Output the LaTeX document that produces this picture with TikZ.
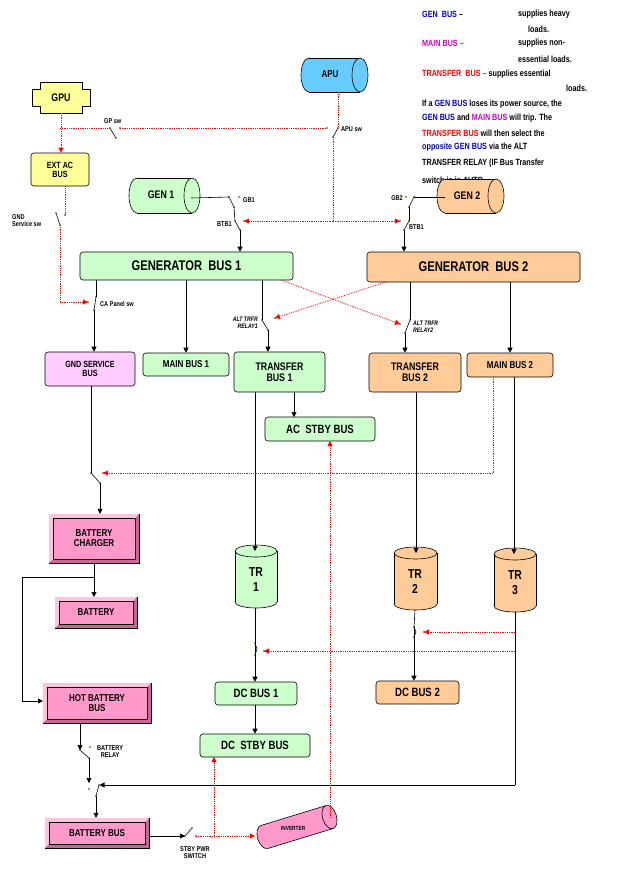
\documentclass[tikz,border=0pt]{standalone}
\usepackage{fontspec}
\setmainfont{Liberation Sans}[FakeStretch=0.8]
\usetikzlibrary{arrows.meta}
\definecolor{gr}{HTML}{CCFFCC}
\definecolor{orc}{HTML}{FFCC99}
\definecolor{pk}{HTML}{FF99CC}
\definecolor{pkd}{HTML}{CC6699}
\definecolor{lpk}{HTML}{FFCCFF}
\definecolor{yl}{HTML}{FFFF99}
\definecolor{bl}{HTML}{66CCFF}
\definecolor{lgb}{HTML}{0000CC}
\definecolor{lgm}{HTML}{CC00CC}
\definecolor{brn}{HTML}{996633}
\newcommand\fs[1]{\fontsize{#1}{#1}\selectfont\bfseries}
\tikzset{
 arr/.style={-{Triangle[length=5pt,width=5pt]},line width=0.6pt},
 ln/.style={line width=0.6pt},
 rarr/.style={red,densely dotted,line width=0.8pt,-{Triangle[length=5pt,width=5pt]}},
 rln/.style={red,densely dotted,line width=0.8pt},
 lbl/.style={inner sep=0,font=\fs{7},align=left},
 lg/.style={inner sep=0,anchor=west,font=\fs{9}},
}
\newcommand\rb[8]{\node[draw,line width=0.6pt,rounded corners=3pt,fill=#6,inner sep=0,align=center,font=\fs{#7},
 minimum width={(#4-#2)*1pt},minimum height={(#5-#3)*1pt}] (#1) at ({(#2+#4)/2},{(#3+#5)/2}) {#8};}
\newcommand\bev[6]{\draw[line width=0.6pt,fill=pkd] (#2,#3) rectangle (#4,#5);
 \fill[pk!60] (#2,#3) -- (#4,#3) -- (#4-4,#3+4) -- (#2+4,#3+4) -- (#2+4,#5-4) -- (#2,#5) -- cycle;
 \draw[line width=0.6pt,fill=pk] (#2+4,#3+4) rectangle (#4-4,#5-4);
 \node[inner sep=0,align=center,font=\fs{10},minimum width={(#4-#2)*1pt},minimum height={(#5-#3)*1pt}] (#1) at ({(#2+#4)/2},{(#3+#5)/2}) {#6};}
\newcommand\hcyl[7]{\draw[line width=0.6pt,fill=#6] (#2+#7,{(#3+#5)/2}) ellipse [x radius=#7,y radius={(#5-#3)/2}];
 \fill[#6] (#2+#7,#3) rectangle (#4-#7,#5);
 \draw[line width=0.6pt] (#2+#7,#3) -- (#4-#7,#3) (#2+#7,#5) -- (#4-#7,#5);
 \draw[line width=0.6pt,fill=#6] (#4-#7,{(#3+#5)/2}) ellipse [x radius=#7,y radius={(#5-#3)/2}];
 \coordinate (#1) at ({(#2+#4)/2-#7},{(#3+#5)/2});}
\newcommand\vcyl[7]{\draw[line width=0.6pt,fill=#6] ({(#2+#4)/2},#5-#7) ellipse [y radius=#7,x radius={(#4-#2)/2}];
 \fill[#6] (#2,#3+#7) rectangle (#4,#5-#7);
 \draw[line width=0.6pt] (#2,#3+#7) -- (#2,#5-#7) (#4,#3+#7) -- (#4,#5-#7);
 \draw[line width=0.6pt,fill=#6] ({(#2+#4)/2},#3+#7) ellipse [y radius=#7,x radius={(#4-#2)/2}];
 \coordinate (#1) at ({(#2+#4)/2},{(#3+#5)/2+#7});}
\newcommand\sw[7]{\coordinate (#1a) at (#2,#3); \coordinate (#1b) at (#4,#5); \coordinate (#1c) at (#6,#7);
 \draw[line width=0.6pt] (#1a) -- (#1b);
 \fill[brn] (#1a) circle (1.2) (#1b) circle (1.2) (#1c) circle (1.2);}
\begin{document}
\begin{tikzpicture}[x=1pt,y=-1pt]
\useasboundingbox (0,0) rectangle (628,871);
% legend
\node[lg] at (422,14) {\textcolor{lgb}{GEN\ \ BUS} --};
\node[lg] at (518,14) {supplies heavy};
\node[lg] at (528,29) {loads.};
\node[lg] at (422,43) {\textcolor{lgm}{MAIN BUS} \textcolor{lgm}{--}};
\node[lg] at (518,43) {supplies non-};
\node[lg] at (518,59) {essential loads.};
\node[lg] at (422,74) {\textcolor{red}{TRANSFER\ \ BUS --} supplies essential};
\node[lg] at (566,88) {loads.};
\node[lg] at (422,104) {If a \textcolor{lgb}{GEN\ BUS} loses its power source, the};
\node[lg] at (422,118) {\textcolor{lgb}{GEN\ BUS} and \textcolor{lgm}{MAIN BUS} will trip. The};
\node[lg] at (422,133) {\textcolor{red}{TRANSFER\ BUS} will then select the};
\node[lg] at (422,147) {\textcolor{lgb}{opposite GEN\ BUS} via the ALT};
\node[lg] at (422,163) {TRANSFER\ RELAY (IF Bus Transfer};
\node[lg] at (422,180) {switch is in AUTO.};
% sources
\draw[line width=0.6pt,fill=yl] (40,82) -- (82,82) -- (82,89) -- (90,89) -- (90,106) -- (82,106) -- (82,113) -- (40,113) -- (40,106) -- (32,106) -- (32,89) -- (40,89) -- cycle;
\node[inner sep=0,font=\fs{11}] (gpu) at (61,97.5) {GPU};
\coordinate (gpub) at (61,113);
\hcyl{apu}{301}{58}{368}{92}{bl}{8}
\node[font=\fs{10},inner sep=0] (apul) at (330,74) {APU};
\hcyl{gen1}{129}{178}{200}{213}{gr}{8}
\node[font=\fs{11},inner sep=0] (gen1l) at (161,195) {GEN 1};
\hcyl{gen2}{437}{179}{504}{213}{orc}{8}
\node[font=\fs{11},inner sep=0] (gen2l) at (467,196) {GEN 2};
% boxes
\rb{extac}{31}{153}{89}{186}{yl}{9}{EXT AC\\BUS}
\rb{gb1}{80}{252}{293}{280}{gr}{14}{GENERATOR\ \ BUS 1}
\rb{gb2}{367}{252}{580}{282}{orc}{14}{GENERATOR\ \ BUS 2}
\rb{gsb}{45}{352}{135}{386}{lpk}{9}{GND SERVICE\\BUS}
\rb{mb1}{143}{353}{229}{376}{gr}{10}{MAIN BUS 1}
\rb{tb1}{234}{352}{325}{392}{gr}{11}{TRANSFER\\BUS 1}
\rb{tb2}{369}{353}{461}{392}{orc}{11}{TRANSFER\\BUS 2}
\rb{mb2}{467}{353}{553}{377}{orc}{10}{MAIN BUS 2}
\rb{acs}{265}{417}{375}{441}{gr}{12}{AC\ \ STBY BUS}
\rb{dc1}{215}{682}{297}{705}{gr}{12}{DC BUS 1}
\rb{dcs}{200}{734}{310}{757}{gr}{12}{DC\ \ STBY BUS}
\rb{dc2}{376}{681}{459}{704}{orc}{12}{DC BUS 2}
\bev{chg}{49}{514}{139}{563}{BATTERY\\CHARGER}
\bev{bat}{55}{597}{137}{628}{BATTERY}
\bev{hbb}{43}{683}{151}{723}{HOT BATTERY\\BUS}
\bev{bb}{45}{818}{149}{848}{BATTERY BUS}
% TRs
\vcyl{tr1}{235}{545}{277}{608}{gr}{6}
\node[font=\fs{13},align=center,inner sep=0] (tr1l) at (256,580) {TR\\[2pt]1};
\vcyl{tr2}{394}{547}{437}{610}{orc}{6}
\node[font=\fs{13},align=center,inner sep=0] (tr2l) at (415,582) {TR\\[2pt]2};
\vcyl{tr3}{494}{548}{536}{612}{orc}{6}
\node[font=\fs{13},align=center,inner sep=0] (tr3l) at (515,583) {TR\\[2pt]3};
% inverter
\begin{scope}[shift={(297,827)},rotate=17]
\hcyl{inv}{-41}{-12}{41}{12}{pk}{7}
\node[font=\fs{6},inner sep=0] (invl) at (-4,0) {INVERTER};
\end{scope}
\coordinate (invL) at (255,836);
\coordinate (invT) at (330,818);
% switches
\sw{gp}{110}{128}{116}{138}{120}{128}
\sw{apus}{338}{128}{333}{137}{327}{128}
\sw{gnd}{56}{213}{60}{225}{65}{215}
\sw{ca}{96}{297}{94}{310}{88}{302}
\sw{gba}{234}{207}{229}{197}{239}{197}
\sw{bta}{235}{221}{240}{230}{244}{221}
\sw{gbb}{409}{207}{414}{197}{406}{197}
\sw{btb}{409}{221}{404}{230}{400}{221}
\sw{ar1}{262}{320}{268}{330}{275}{318}
\sw{ar2}{410}{320}{405}{333}{400}{324}
\sw{gss}{91}{473}{100}{483}{103}{473}
\sw{t1}{255}{643}{255}{655}{264}{651}
\sw{t2}{414}{627}{414}{637}{424}{632}
\sw{br}{80}{750}{89}{758}{90}{747}
\sw{lw}{96}{796}{99}{785}{89}{789}
\sw{sp}{185}{836}{192}{828}{196}{836}
% labels
\node[lbl,anchor=west] at (104,121) {GP sw};
\node[lbl,anchor=west] at (341,129) {APU sw};
\node[lbl,anchor=west] at (12,221) {GND\\Service sw};
\node[lbl,anchor=west] at (100,304) {CA Panel sw};
\node[lbl,anchor=west] at (243,200) {GB1};
\node[lbl,anchor=east] at (232,224) {BTB1};
\node[lbl,anchor=east] at (403,198) {GB2};
\node[lbl,anchor=west] at (409,227) {BTB1};
\node[lbl,anchor=east,align=right,font=\fs{6.5}\itshape] at (258,323) {ALT TRFR\\RELAY1};
\node[lbl,anchor=west,font=\fs{6.5}\itshape] at (413,327) {ALT TRFR\\RELAY2};
\node[lbl,anchor=west,align=center] at (97,752) {BATTERY\\RELAY};
\node[lbl,align=center] at (195,853) {STBY PWR\\SWITCH};
% red AC feeds
\draw[rarr] (gpub) -- (gpub |- extac.north);
\draw[rln] (60,128) -- (gpa);
\draw[rln] (gpc) -- (apusc);
\draw[rln] (338,92) -- (apusa);
\draw[rln] (apusb) -- (333,221);
\draw[rarr] (333,221) -- (btac);
\draw[rarr] (333,221) -- (btbc);
\draw[rln] (extac.south -| gndc) -- (gndc);
\draw[rln] (gndb) -- (60,302);
\draw[rarr] (60,302) -- (cac);
% gens
\draw[ln] (191,198) -- (gbab);
\draw[ln] (gbaa) -- (btaa);
\draw[arr] (btab) -- (btab |- gb1.north);
\draw[ln] (445,197) -- (gbbb);
\draw[ln] (gbba) -- (btba);
\draw[arr] (btbb) -- (btbb |- gb2.north);
% gen bus outputs
\draw[ln] (gb1.south -| caa) -- (caa);
\draw[arr] (cab) -- (cab |- gsb.north);
\draw[arr] (gb1.south -| mb1.north) -- (mb1.north);
\draw[ln] (gb1.south -| ar1a) -- (ar1a);
\draw[arr] (ar1b) -- (ar1b |- tb1.north);
\draw[ln] (gb2.south -| ar2a) -- (ar2a);
\draw[arr] (ar2b) -- (ar2b |- tb2.north);
\draw[arr] (gb2.south -| mb2.north) -- (mb2.north);
\draw[rarr] (281,280) -- (ar2c);
\draw[rarr] (386,282) -- (ar1c);
\draw[arr] (294,392) -- (294,417);
% TRs
\draw[arr] (255,392) -- (255,551);
\draw[arr] (416,392) -- (416,553);
\draw[arr] (514,377) -- (514,554);
\draw[ln] (255,608) -- (t1a);
\draw[ln] (t1a) -- (257,649) -- (t1b);
\draw[arr] (t1b) -- (t1b |- dc1.north);
\draw[ln] (415,610) -- (t2a);
\draw[ln] (t2a) -- (416,632) -- (t2b);
\draw[arr] (t2b) -- (t2b |- dc2.north);
\draw[arr] (dc1.south -| t1b) -- (t1b |- dcs.north);
\draw[rarr] (515,632) -- (t2c);
\draw[rarr] (515,651) -- (t1c);
\draw[ln] (515,612) -- (515,785);
\draw[arr] (515,785) -- (99.5,785);
% gnd service / battery chain
\draw[ln] (gsb.south -| gssa) -- (gssa);
\draw[arr] (gssb) -- (gssb |- chg.north);
\draw[rln] (493,377) -- (493,473);
\draw[rarr] (493,473) -- (gssc);
\draw[arr] (94,563) -- (94,597);
\draw[ln] (94,577) -- (22,577) -- (22,701);
\draw[arr] (22,701) -- (43,701);
\draw[arr] (hbb.south -| bra) -- (bra);
\draw[arr] (brb) -- (89,783);
\draw[arr] (lwa) -- (lwa |- bb.north);
\draw[arr] (bb.east |- spa) -- (spa);
\draw[rarr] (spc) -- (invL);
\draw[rarr] (214,836) -- (214,757);
\draw[rarr] (invT) -- (330,441);
\end{tikzpicture}
\end{document}
